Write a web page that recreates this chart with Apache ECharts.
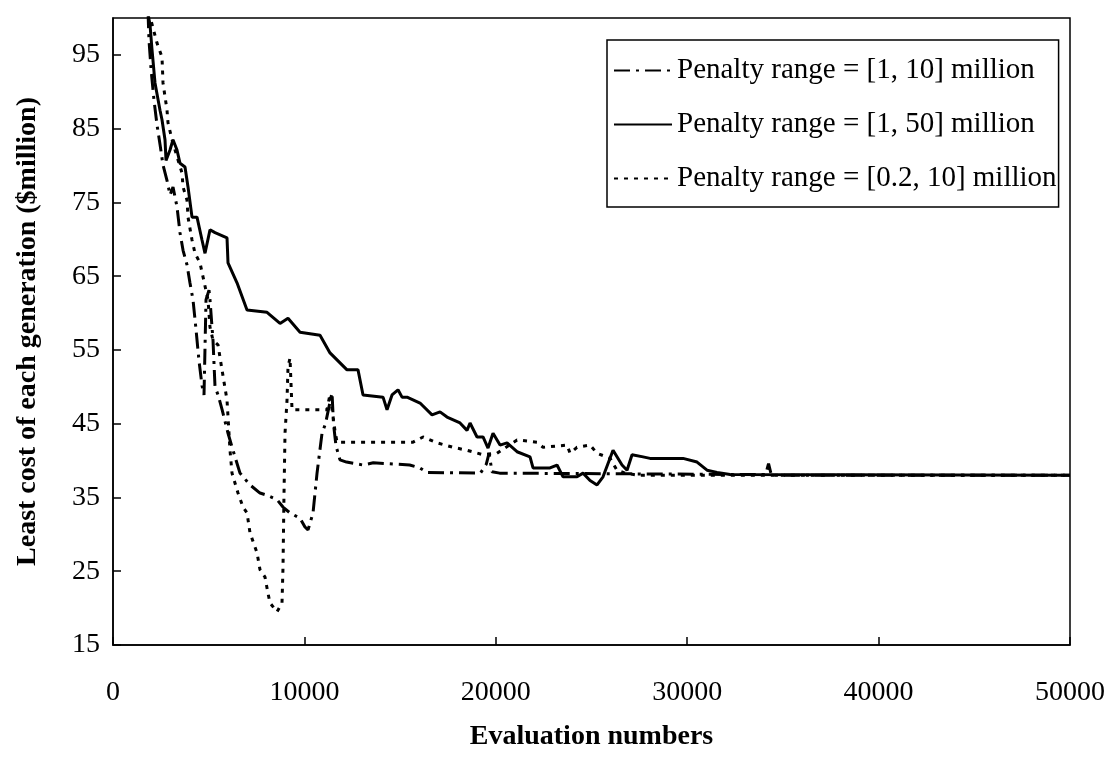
<!DOCTYPE html>
<html>
<head>
<meta charset="utf-8">
<script src="https://cdn.jsdelivr.net/npm/echarts@6/dist/echarts.min.js"></script>
<style>
  html, body { margin: 0; padding: 0; background: #fff; }
  #chart { width: 1115px; height: 765px; }
</style>
</head>
<body>
<div id="chart"></div>
<script>
// ---- Data ----
const seriesNames = [
  'Penalty range = [1, 10] million',
  'Penalty range = [1, 50] million',
  'Penalty range = [0.2, 10] million'
];

// [evaluation number, least cost ($million)]
const penalty_1_10 = [
  [1830, 100.8],[1880, 97.0],[1990, 93.0],[2140, 88.9],[2300, 85.5],[2460, 82.8],[2610, 80.1],
  [2820, 78.0],[2980, 76.0],[3135, 77.1],[3344, 74.4],[3500, 70.9],[3660, 68.5],[3870, 66.5],
  [4020, 64.1],[4180, 61.8],[4340, 57.7],[4490, 53.6],[4650, 50.2],[4755, 48.9],[4860, 61.8],
  [5016, 63.1],[5068, 61.8],[5225, 56.3],[5330, 50.0],[5490, 48.9],[5700, 46.9],[6010, 43.7],
  [6270, 41.4],[6636, 38.3],[7160, 36.7],[7680, 35.6],[8050, 35.3],[8570, 34.7],[8880, 33.7],
  [9250, 32.9],[9770, 32.2],[10030, 31.0],[10190, 30.6],[10450, 32.9],[10660, 38.3],[10920, 43.7],
  [11100, 45.0],[11443, 49.2],[11520, 45.0],[11650, 42.0],[11860, 40.1],[12200, 39.8],[13060, 39.4],
  [13600, 39.7],[15500, 39.4],[16040, 39.0],[16400, 38.4],[19200, 38.3],[19500, 39.5],[19650, 41.0],
  [19800, 38.5],[20200, 38.3],[34100, 38.1],[34250, 39.6],[34400, 38.0],[50000, 38.0]
];

const penalty_1_50 = [
  [1830, 100.5],[1933, 99.1],[2038, 95.7],[2195, 91.2],[2456, 87.5],[2560, 86.2],[2717, 83.5],
  [2770, 80.7],[2978, 82.1],[3135, 83.5],[3344, 82.1],[3501, 80.3],[3762, 79.8],[3919, 77.1],
  [4128, 73.0],[4389, 73.0],[4650, 69.9],[4807, 68.1],[5068, 71.3],[5330, 70.9],[5957, 70.2],
  [6009, 66.8],[6479, 64.1],[7002, 60.4],[8047, 60.1],[8726, 58.6],[9144, 59.3],[9771, 57.4],
  [10816, 57.0],[11338, 54.6],[12227, 52.3],[12801, 52.3],[13063, 48.9],[14108, 48.6],[14317, 46.9],
  [14578, 48.9],[14891, 49.6],[15100, 48.6],[15362, 48.6],[16041, 47.8],[16668, 46.2],[17086, 46.6],
  [17452, 45.9],[18131, 45.1],[18497, 44.1],[18654, 45.1],[19019, 43.2],[19333, 43.2],[19594, 41.7],
  [19855, 43.7],[20221, 42.1],[20587, 42.4],[21109, 41.2],[21788, 40.5],[21945, 39.0],[22833, 39.0],
  [23199, 39.4],[23513, 37.8],[24244, 37.8],[24558, 38.3],[24924, 37.3],[25289, 36.7],[25603, 37.8],
  [26125, 41.4],[26595, 39.4],[26857, 38.7],[27118, 40.8],[27693, 40.5],[28059, 40.3],[29783, 40.3],
  [30514, 39.8],[31036, 38.7],[31558, 38.4],[32237, 38.1],[50000, 38.0]
];

const penalty_02_10 = [
  [1830, 100.7],[1933, 100.2],[2299, 96.6],[2560, 94.7],[2613, 91.2],[2822, 87.5],[2874, 85.8],
  [3083, 83.5],[3344, 81.2],[3605, 79.0],[3658, 77.1],[3867, 75.3],[3919, 73.0],[4128, 69.9],
  [4285, 68.1],[4546, 66.8],[4703, 64.9],[4964, 61.8],[5068, 58.1],[5225, 56.3],[5486, 55.7],
  [5695, 52.3],[5957, 48.2],[6113, 41.4],[6218, 38.3],[6531, 35.6],[6793, 33.7],[7002, 32.9],
  [7158, 30.2],[7524, 27.5],[7681, 25.2],[7942, 24.2],[8099, 22.0],[8203, 20.7],[8569, 19.5],
  [8830, 20.7],[8883, 25.6],[8930, 34.7],[8987, 43.7],[9092, 48.2],[9144, 52.7],[9248, 53.9],
  [9353, 46.9],[11182, 46.9],[11338, 49.0],[11600, 44.0],[11704, 42.5],[15675, 42.5],[16200, 43.2],
  [16930, 42.4],[17765, 41.8],[18500, 41.4],[19330, 40.8],[20060, 41.0],[21110, 42.8],[22150, 42.5],
  [22470, 41.8],[23720, 42.1],[23880, 41.0],[24240, 41.8],[24920, 42.1],[25290, 41.0],[25970, 40.3],
  [26330, 38.7],[26750, 38.3],[27500, 38.0],[50000, 38.0]
];

const yTickValues = [15, 25, 35, 45, 55, 65, 75, 85, 95];
const xTickValues = [0, 10000, 20000, 30000, 40000, 50000];

const xTitle = 'Evaluation numbers';
const yTitle = 'Least cost of each generation ($million)';

// ---- Chart ----
const FONT = 'Liberation Serif';
const chart = echarts.init(document.getElementById('chart'), null, { renderer: 'canvas' });

const lineStyles = [
  { color: '#000', width: 3, type: [16, 6, 3, 6] },
  { color: '#000', width: 3, type: 'solid' },
  { color: '#000', width: 3, type: [4, 6] }
];
const seriesData = [penalty_1_10, penalty_1_50, penalty_02_10];

chart.setOption({
  animation: false,
  backgroundColor: '#fff',
  grid: {
    left: 113, right: 45, top: 18, bottom: 120,
    show: true, borderColor: '#000', borderWidth: 1.5, backgroundColor: 'transparent'
  },
  legend: {
    data: seriesNames,
    orient: 'vertical',
    left: 607, top: 40,
    backgroundColor: '#fff',
    borderColor: '#000', borderWidth: 1.5, borderRadius: 0,
    padding: [16, 2, 14, 6],
    itemGap: 25,
    itemWidth: 58, itemHeight: 14,
    itemStyle: { opacity: 0 },
    textStyle: { fontFamily: FONT, fontSize: 29, color: '#000' }
  },
  xAxis: {
    type: 'value',
    min: 0, max: 50000, interval: 10000,
    name: xTitle,
    nameLocation: 'middle',
    nameGap: 78,
    nameTextStyle: { fontFamily: FONT, fontSize: 28, fontWeight: 'bold', color: '#000' },
    axisLine: { show: true, lineStyle: { color: '#000', width: 1.5 } },
    axisTick: { show: true, inside: true, length: 8, lineStyle: { color: '#000', width: 1.5 } },
    axisLabel: { fontFamily: FONT, fontSize: 28, color: '#000', margin: 34,
      customValues: xTickValues, formatter: v => String(v) },
    splitLine: { show: false }
  },
  yAxis: {
    type: 'value',
    min: 15, max: 100,
    name: yTitle,
    nameLocation: 'middle',
    nameGap: 71,
    nameRotate: 90,
    nameTextStyle: { fontFamily: FONT, fontSize: 28, fontWeight: 'bold', color: '#000' },
    axisLine: { show: true, lineStyle: { color: '#000', width: 1.5 } },
    axisTick: { show: true, inside: true, length: 8, customValues: yTickValues,
      lineStyle: { color: '#000', width: 1.5 } },
    axisLabel: { fontFamily: FONT, fontSize: 28, color: '#000', margin: 13,
      customValues: yTickValues, formatter: v => String(v) },
    splitLine: { show: false }
  },
  series: seriesNames.map((name, i) => ({
    name: name,
    type: 'line',
    data: seriesData[i],
    symbol: 'none',
    showSymbol: false,
    clip: true,
    lineStyle: lineStyles[i],
    itemStyle: { color: '#000' },
    z: 3 - i
  }))
});
</script>
</body>
</html>
